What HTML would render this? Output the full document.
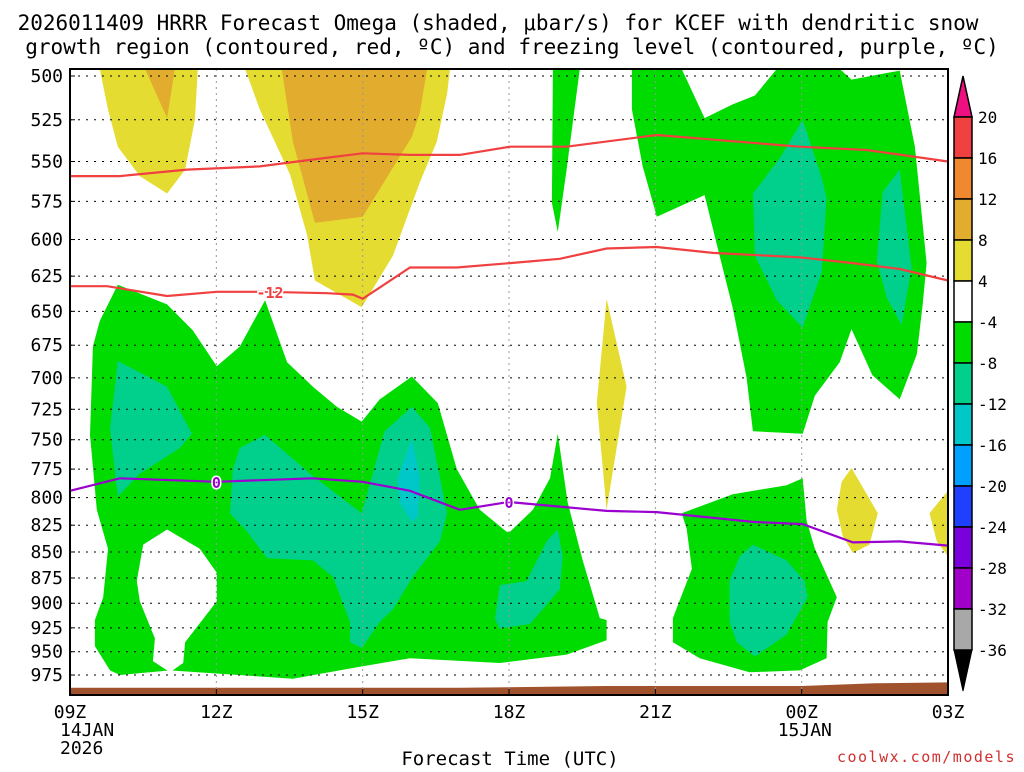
<!DOCTYPE html>
<html><head><meta charset="utf-8"><style>
body{margin:0;background:#fff;width:1024px;height:768px;overflow:hidden;font-family:"DejaVu Sans Mono",monospace}
svg text{font-family:"DejaVu Sans Mono","Liberation Mono",monospace}
</style></head><body>
<svg id="chart" width="1024" height="768" xmlns="http://www.w3.org/2000/svg">
<text x="498" y="30" font-size="21" text-anchor="middle">2026011409 HRRR Forecast Omega (shaded, μbar/s) for KCEF with dendritic snow</text>
<text x="512" y="54" font-size="21" text-anchor="middle">growth region (contoured, red, ºC) and freezing level (contoured, purple, ºC)</text>
<g id="fills"></g>
<g id="grid"></g>
<g id="lines"></g>
<g id="axes"></g>
<g id="cbar"></g>
<text x="510" y="765" font-size="19" text-anchor="middle">Forecast Time (UTC)</text>
<text x="1016" y="762" font-size="15" fill="#d03030" text-anchor="end" letter-spacing="1.5">coolwx.com/models</text>
</svg>
<script>
const pressureLevels=[500,525,550,575,600,625,650,675,700,725,750,775,800,825,850,875,900,925,950,975];
const timeTicks=[0,3,6,9,12,15,18];
const timeLabels=["09Z","12Z","15Z","18Z","21Z","00Z","03Z"];
const cbarLevels=[20,16,12,8,4,-4,-8,-12,-16,-20,-24,-28,-32,-36];
const cbarColors=["#f04040","#f08830","#e2ac2e","#e5dc32","#ffffff","#00dc00","#00d08c","#00c8c8","#00a0ff","#2040ff","#7a00dc","#a000c8","#a8a8a8"];
const yellowA=[[0.61,496],[2.62,496],[2.56,525],[2.36,555],[1.99,570],[1.43,559],[0.98,541],[0.78,519]];
const orangeA=[[1.54,496],[2.15,496],[1.99,524]];
const yellowB=[[3.59,496],[3.89,519],[4.51,558],[4.86,597],[5.02,628],[5.98,647],[6.62,611],[7.17,563],[7.52,538],[7.73,510],[7.79,496]];
const orangeB=[[4.34,496],[4.57,538],[5.02,589],[6,585],[7.01,535],[7.17,521],[7.32,496]];
const greenL=[[0.98,631],[1.99,645],[2.52,664],[3.01,691],[3.48,676],[4,642],[4.45,688],[4.98,707],[5.47,723],[5.98,735],[6.35,717],[7.01,699],[7.54,720],[7.93,775],[8.4,811],[8.95,831],[9.02,831],[9.49,811],[9.84,783],[10,745],[10.2,804],[10.51,858],[10.86,915],[11,917],[11,938],[10.18,953],[8.81,962],[6.97,957],[5.94,966],[4.57,979],[2.05,970],[1.02,975],[0.82,970],[0.51,944],[0.51,917],[0.68,894],[0.78,847],[0.55,811],[0.41,746],[0.47,676],[0.61,657]];
const holeL=[[1.99,829],[1.5,843],[1.37,878],[1.43,898],[1.74,936],[1.7,960],[2.05,972],[2.32,962],[2.36,940],[3.01,898],[3.01,870],[2.66,847]];
const tealL1=[[0.98,687],[1.99,707],[2.5,745],[2.25,757],[1.43,779],[0.98,799],[0.82,741]];
const tealL2=[[3.48,757],[4,746],[4.98,781],[5.98,814],[6.45,743],[7.01,723],[7.38,740],[7.73,814],[7.58,840],[7.03,874],[6.62,906],[6.35,919],[5.98,946],[5.74,940],[5.74,919],[5.39,874],[4.98,858],[4.04,856],[3.63,831],[3.28,814],[3.34,775]];
const cyanL=[[7.01,749],[7.17,783],[7.13,817],[7.01,822],[6.76,804],[6.72,783]];
const tealL3=[[8.71,916],[8.81,882],[9.36,878],[9.77,840],[10,829],[10.1,854],[10.04,886],[9.69,906],[9.43,921],[9.02,924],[8.81,926]];
const greenStrip=[[9.9,496],[10.45,496],[10.18,555],[10,595],[9.88,576]];
const greenR=[[11.52,496],[12.54,496],[13.01,524],[13.59,516],[14.04,511],[14.49,496],[15.78,496],[16.02,502],[17.01,497],[17.32,541],[17.56,616],[17.48,645],[17.36,682],[17.01,717],[16.45,698],[16.02,663],[15.78,688],[15.27,714],[15.02,745],[14,743],[13.87,700],[13.59,648],[13.28,606],[13.01,571],[12.03,585],[11.74,553],[11.52,519]];
const tealR1=[[15.02,525],[15.41,560],[15.51,573],[15.41,622],[15.02,662],[14.49,642],[14.04,611],[14,570],[14.55,548]];
const tealR2=[[17.01,555],[17.25,619],[17.05,660],[16.74,640],[16.54,614],[16.66,569]];
const greenBR=[[12.54,814],[13.59,797],[14.69,789],[15.02,783],[15.1,821],[15.27,847],[15.72,894],[15.53,919],[15.51,957],[14.96,970],[13.93,972],[12.91,957],[12.36,940],[12.36,915],[12.75,866],[12.64,828]];
const tealBR=[[14,843],[14.69,858],[15.06,878],[15.12,894],[14.69,932],[14.04,955],[13.67,940],[13.52,919],[13.52,878],[13.73,854]];
const yellowStrip=[[11,641],[11.41,707],[11,811],[10.8,720]];
const yellowR1=[[16.02,774],[16.56,814],[16.39,843],[16.05,851],[15.84,835],[15.72,811],[15.82,786]];
const yellowR2=[[18,794],[17.62,814],[17.77,840],[18,854]];
const ground=[[0,989],[8,989],[11,987],[15,987],[16.5,984],[18,983],[18,1000],[0,1000]];
const dgzTopHours=[0,1.02,2.4,3.89,4.92,6,6.97,7.99,9.02,10.18,12.03,14.96,16.33,18];
const dgzTopP=[559,559,555,553,549,545,546,546,541,541,534,541,543,550];
const dgzBotHours=[0,0.76,1.99,3.01,4,5.27,5.8,6,6.97,7.93,9.02,10.04,11,12.03,13.18,14.96,16.05,17.01,18];
const dgzBotP=[632,632,639,636,636,637,638,641,619,619,616,613,606,605,609,612,616,620,628];
const frzHours=[0,1.02,3.01,4.98,6,6.97,7.99,8.98,9.02,11,12.03,14,15.02,16.05,17.01,18];
const frzP=[794,783,786,783,786,794,811,804,804,812,813,822,824,841,840,844];

const NS="http://www.w3.org/2000/svg";
const X0=70,X1=948,Y0=69,Y1=695;
function xs(h){return 70+48.78*h;}
function ys(p){return Math.max(Y0,Math.min(Y1,76+897*Math.log(p/500)));}
function mk(tag,attrs,parent){const e=document.createElementNS(NS,tag);for(const k in attrs)e.setAttribute(k,attrs[k]);parent.appendChild(e);return e;}
const fills=document.getElementById('fills');
function poly(pts,color,name){const e=mk('polygon',{points:pts.map(q=>xs(q[0]).toFixed(1)+','+ys(q[1]).toFixed(1)).join(' '),fill:color},fills);

}
const Y='#e5dc32',O='#e2ac2e',G='#00dc00',T='#00d08c',C='#00c8c8';
poly(yellowA,Y,'omega-pos4-area-a');poly(orangeA,O,'omega-pos8-area-a');
poly(yellowB,Y,'omega-pos4-area-b');poly(orangeB,O,'omega-pos8-area-b');
poly(greenL,G,'omega-neg4-area-left');poly(holeL,'#ffffff','omega-hole-left');
poly(tealL1,T,'omega-neg8-area-1');poly(tealL2,T,'omega-neg8-area-2');poly(cyanL,C,'omega-neg12-area');
poly(tealL3,T,'omega-neg8-area-3');poly(greenStrip,G,'omega-neg4-strip');
poly(greenR,G,'omega-neg4-area-right');poly(tealR1,T,'omega-neg8-area-r1');poly(tealR2,T,'omega-neg8-area-r2');
poly(greenBR,G,'omega-neg4-area-lower-right');poly(tealBR,T,'omega-neg8-area-lower-right');
poly(yellowStrip,Y,'omega-pos4-strip');poly(yellowR1,Y,'omega-pos4-blob-r1');poly(yellowR2,Y,'omega-pos4-blob-r2');
poly(ground,'#a0522d','ground');

const grid=document.getElementById('grid'),axes=document.getElementById('axes');
pressureLevels.forEach(p=>{
 const y=ys(p);
 const l=mk('line',{x1:X0,x2:X1,y1:y,y2:y,stroke:'#000','stroke-width':1,'stroke-dasharray':'2,6'},grid);
 
 
 const t=mk('text',{x:63,y:y+6,'font-size':18,'text-anchor':'end'},axes);t.textContent=p;
 
 
 mk('line',{x1:X0,x2:X0+5,y1:y,y2:y,stroke:'#000'},axes);
});
timeTicks.forEach((h,i)=>{
 const x=xs(h);
 if(i>0&&i<timeTicks.length-1){const l=mk('line',{x1:x,x2:x,y1:Y0,y2:Y1,stroke:'#999','stroke-width':1,'stroke-dasharray':'2,4'},grid);
 
 }
 mk('line',{x1:x,x2:x,y1:Y1,y2:Y1-6,stroke:'#000'},axes);
 const t=mk('text',{x:x,y:718,'font-size':18,'text-anchor':'middle'},axes);t.textContent=timeLabels[i];
 
 
});
[['14JAN',xs(0)-10,736,'date-label-14jan'],['2026',xs(0)-10,754,'year-label'],['15JAN',xs(15)-24,736,'date-label-15jan']].forEach(d=>{
 const t=mk('text',{x:d[1],y:d[2],'font-size':18},axes);t.textContent=d[0];
 
 
});
const fr=mk('rect',{x:X0,y:Y0,width:X1-X0,height:Y1-Y0,fill:'none',stroke:'#000','stroke-width':2},axes);



const lines=document.getElementById('lines');
function path(hs,ps,color,name){const d=hs.map((h,i)=>(i?'L':'M')+xs(h).toFixed(1)+','+ys(ps[i]).toFixed(1)).join(' ');
 const e=mk('path',{d:d,fill:'none',stroke:color,'stroke-width':2.2},lines);
 
 }
path(dgzTopHours,dgzTopP,'#f04040','dgz-upper-contour');
path(dgzBotHours,dgzBotP,'#f04040','dgz-lower-contour');
path(frzHours,frzP,'#9a00d0','freezing-level-contour');
function lab(h,p,txt,color,name){const x=xs(h),y=ys(p);
 const t=mk('text',{x:x,y:y+6,'font-size':15,'font-weight':'bold',fill:color,'text-anchor':'middle',stroke:'#fff','stroke-width':3,'paint-order':'stroke'},lines);t.textContent=txt;
 
 }
lab(4.1,636,'-12','#f04040','dgz-label-neg12');
lab(3,786,'0','#9a00d0','freezing-label-1');
lab(9,804,'0','#9a00d0','freezing-label-2');

const cb=document.getElementById('cbar');
const cbTop=117,cbStep=41.0,cx0=954,cx1=972;
const tri1=mk('polygon',{points:`${cx0},${cbTop} ${cx1},${cbTop} ${(cx0+cx1)/2},76`,fill:'#ee1080',stroke:'#000','stroke-width':1.5},cb);


cbarColors.forEach((c,i)=>{
 const r=mk('rect',{x:cx0,y:cbTop+i*cbStep,width:cx1-cx0,height:cbStep,fill:c,stroke:'#000','stroke-width':1.5},cb);
 
 
});
const cbBot=cbTop+cbarColors.length*cbStep;
const tri2=mk('polygon',{points:`${cx0},${cbBot} ${cx1},${cbBot} ${(cx0+cx1)/2},691`,fill:'#000',stroke:'#000'},cb);


cbarLevels.forEach((v,i)=>{
 const t=mk('text',{x:978,y:cbTop+i*cbStep+6,'font-size':16},cb);t.textContent=v;
 
 
});
</script>
</body></html>
